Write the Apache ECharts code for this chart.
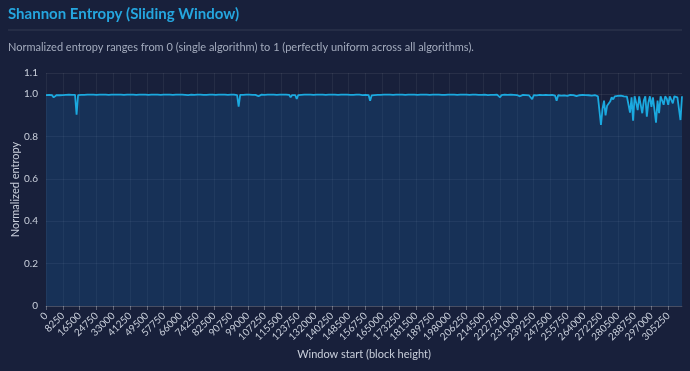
<!DOCTYPE html>
<html><head><meta charset="utf-8">
<script src="https://cdn.jsdelivr.net/npm/echarts@6/dist/echarts.min.js"></script>
<style>html,body{margin:0;padding:0;background:#18203b;}#c{width:690px;height:371px;}</style>
</head><body><div id="c"></div>
<script>
const windowStep = 750;
const labelEvery = 8250;
const entropy = [
0.996,0.993,0.997,0.990,0.995,0.985,0.992,0.996,0.989,0.995,0.997,0.996,0.998,0.997,0.996,0.998,0.997,0.997,0.998,0.997,
0.903,0.996,0.998,0.997,0.998,0.997,0.998,0.998,0.997,0.998,0.997,0.998,0.998,0.997,0.998,0.998,0.997,0.998,0.997,0.998,
0.998,0.997,0.998,0.998,0.997,0.998,0.996,0.998,0.997,0.998,0.998,0.997,0.998,0.998,0.997,0.998,0.997,0.998,0.998,0.997,
0.998,0.998,0.997,0.998,0.997,0.998,0.998,0.997,0.998,0.998,0.996,0.998,0.997,0.998,0.998,0.997,0.998,0.998,0.997,0.998,
0.997,0.998,0.998,0.997,0.998,0.998,0.997,0.998,0.997,0.998,0.998,0.997,0.998,0.996,0.997,0.998,0.998,0.997,0.998,0.998,
0.997,0.998,0.998,0.997,0.998,0.997,0.998,0.998,0.997,0.998,0.998,0.997,0.998,0.998,0.997,0.998,0.997,0.998,0.998,0.997,
0.998,0.998,0.997,0.998,0.997,0.996,0.941,0.997,0.998,0.997,0.998,0.998,0.997,0.998,0.998,0.997,0.998,0.997,0.996,0.990,
0.997,0.998,0.998,0.997,0.998,0.998,0.997,0.998,0.997,0.998,0.998,0.997,0.998,0.998,0.997,0.998,0.997,0.998,0.998,0.997,
0.985,0.996,0.998,0.996,0.978,0.996,0.998,0.997,0.998,0.998,0.997,0.998,0.997,0.998,0.998,0.997,0.998,0.998,0.997,0.998,
0.997,0.998,0.998,0.997,0.998,0.998,0.997,0.998,0.997,0.998,0.998,0.997,0.998,0.998,0.997,0.998,0.997,0.998,0.998,0.997,
0.998,0.997,0.998,0.998,0.997,0.998,0.997,0.996,0.998,0.997,0.993,0.996,0.969,0.994,0.997,0.996,0.998,0.997,0.998,0.997,
0.998,0.998,0.997,0.998,0.997,0.998,0.998,0.997,0.998,0.998,0.997,0.998,0.997,0.998,0.998,0.997,0.998,0.998,0.997,0.998,
0.997,0.998,0.998,0.997,0.998,0.998,0.997,0.998,0.997,0.998,0.998,0.997,0.998,0.998,0.997,0.998,0.997,0.998,0.998,0.997,
0.998,0.997,0.998,0.998,0.997,0.998,0.997,0.998,0.998,0.997,0.998,0.998,0.997,0.998,0.997,0.998,0.998,0.997,0.998,0.998,
0.997,0.998,0.996,0.997,0.998,0.997,0.995,0.998,0.997,0.996,0.998,0.997,0.994,0.997,0.996,0.998,0.997,0.985,0.996,0.997,
0.998,0.996,0.997,0.995,0.998,0.996,0.997,0.994,0.996,0.997,0.990,0.996,0.997,0.995,0.996,0.997,0.994,0.996,0.976,0.995,
0.997,0.994,0.996,0.997,0.993,0.996,0.995,0.997,0.990,0.996,0.994,0.997,0.995,0.993,0.969,0.995,0.996,0.993,0.997,0.994,
0.996,0.992,0.995,0.997,0.993,0.996,0.994,0.991,0.996,0.995,0.993,0.997,0.994,0.996,0.992,0.995,0.996,0.993,0.995,0.996,
0.995,0.990,0.990,0.855,0.930,0.970,0.900,0.945,0.940,0.965,0.985,0.975,0.990,0.985,0.992,0.988,0.993,0.985,0.990,0.993,
0.988,0.992,0.913,0.985,0.875,0.990,0.960,0.925,0.990,0.985,0.910,0.970,0.990,0.894,0.960,0.990,0.940,0.985,0.980,0.866,
0.970,0.910,0.990,0.985,0.950,0.990,0.980,0.950,0.990,0.985,0.957,0.990,0.990,0.985,0.993,0.878,0.990
];
const windowStarts = entropy.map((_, i) => String(i * windowStep));

const chart = echarts.init(document.getElementById('c'), null, {renderer: 'canvas'});
const FONT = 'Lato';
const lblEvery = labelEvery / windowStep - 1;
chart.setOption({
  backgroundColor: '#18203b',
  textStyle: {fontFamily: FONT},
  title: [
    {text: 'Shannon Entropy (Sliding Window)', left: 8, top: 7, padding: 0,
     textStyle: {color: '#25a6df', fontSize: 15, fontWeight: 'bold', fontFamily: FONT}},
    {text: 'Normalized entropy ranges from 0 (single algorithm) to 1 (perfectly uniform across all algorithms).', left: 8, top: 42, padding: 0,
     textStyle: {color: '#a3abbd', fontSize: 11, fontWeight: 'normal', fontFamily: FONT}}
  ],
  graphic: [{type: 'line', shape: {x1: 8, y1: 30, x2: 682, y2: 30}, style: {stroke: 'rgba(255,255,255,0.12)', lineWidth: 1}}],
  grid: {left: 46, right: 8, top: 73, bottom: 65, containLabel: false, outerBoundsMode: 'none'},
  xAxis: {
    type: 'category', data: windowStarts, boundaryGap: false,
    name: 'Window start (block height)', nameLocation: 'middle', nameGap: 43, nameMoveOverlap: false,
    nameTextStyle: {color: '#c9cfdb', fontSize: 11},
    axisLine: {lineStyle: {color: 'rgba(255,255,255,0.15)'}},
    axisTick: {show: true, interval: lblEvery, length: 4, lineStyle: {color: 'rgba(255,255,255,0.3)'}},
    axisLabel: {interval: lblEvery, rotate: 45, color: '#c9cfdb', fontSize: 10, margin: 8},
    splitLine: {show: true, interval: lblEvery, lineStyle: {color: 'rgba(255,255,255,0.06)'}}
  },
  yAxis: {
    type: 'value', min: 0, max: 1.1, interval: 0.2,
    name: 'Normalized entropy', nameLocation: 'middle', nameGap: 25, nameMoveOverlap: false,
    nameTextStyle: {color: '#c9cfdb', fontSize: 11},
    axisLine: {show: false}, axisTick: {show: false},
    axisLabel: {color: '#c9cfdb', fontSize: 10, formatter: v => (v === 0 ? '0' : v.toFixed(1))},
    splitLine: {lineStyle: {color: 'rgba(255,255,255,0.07)'}}
  },
  series: [{
    type: 'line', data: entropy, showSymbol: false, symbol: 'none',
    lineStyle: {color: '#1ba9df', width: 1.8},
    areaStyle: {color: 'rgba(22,95,160,0.4)', origin: 'start'},
    animation: false
  }]
});
</script></body></html>
